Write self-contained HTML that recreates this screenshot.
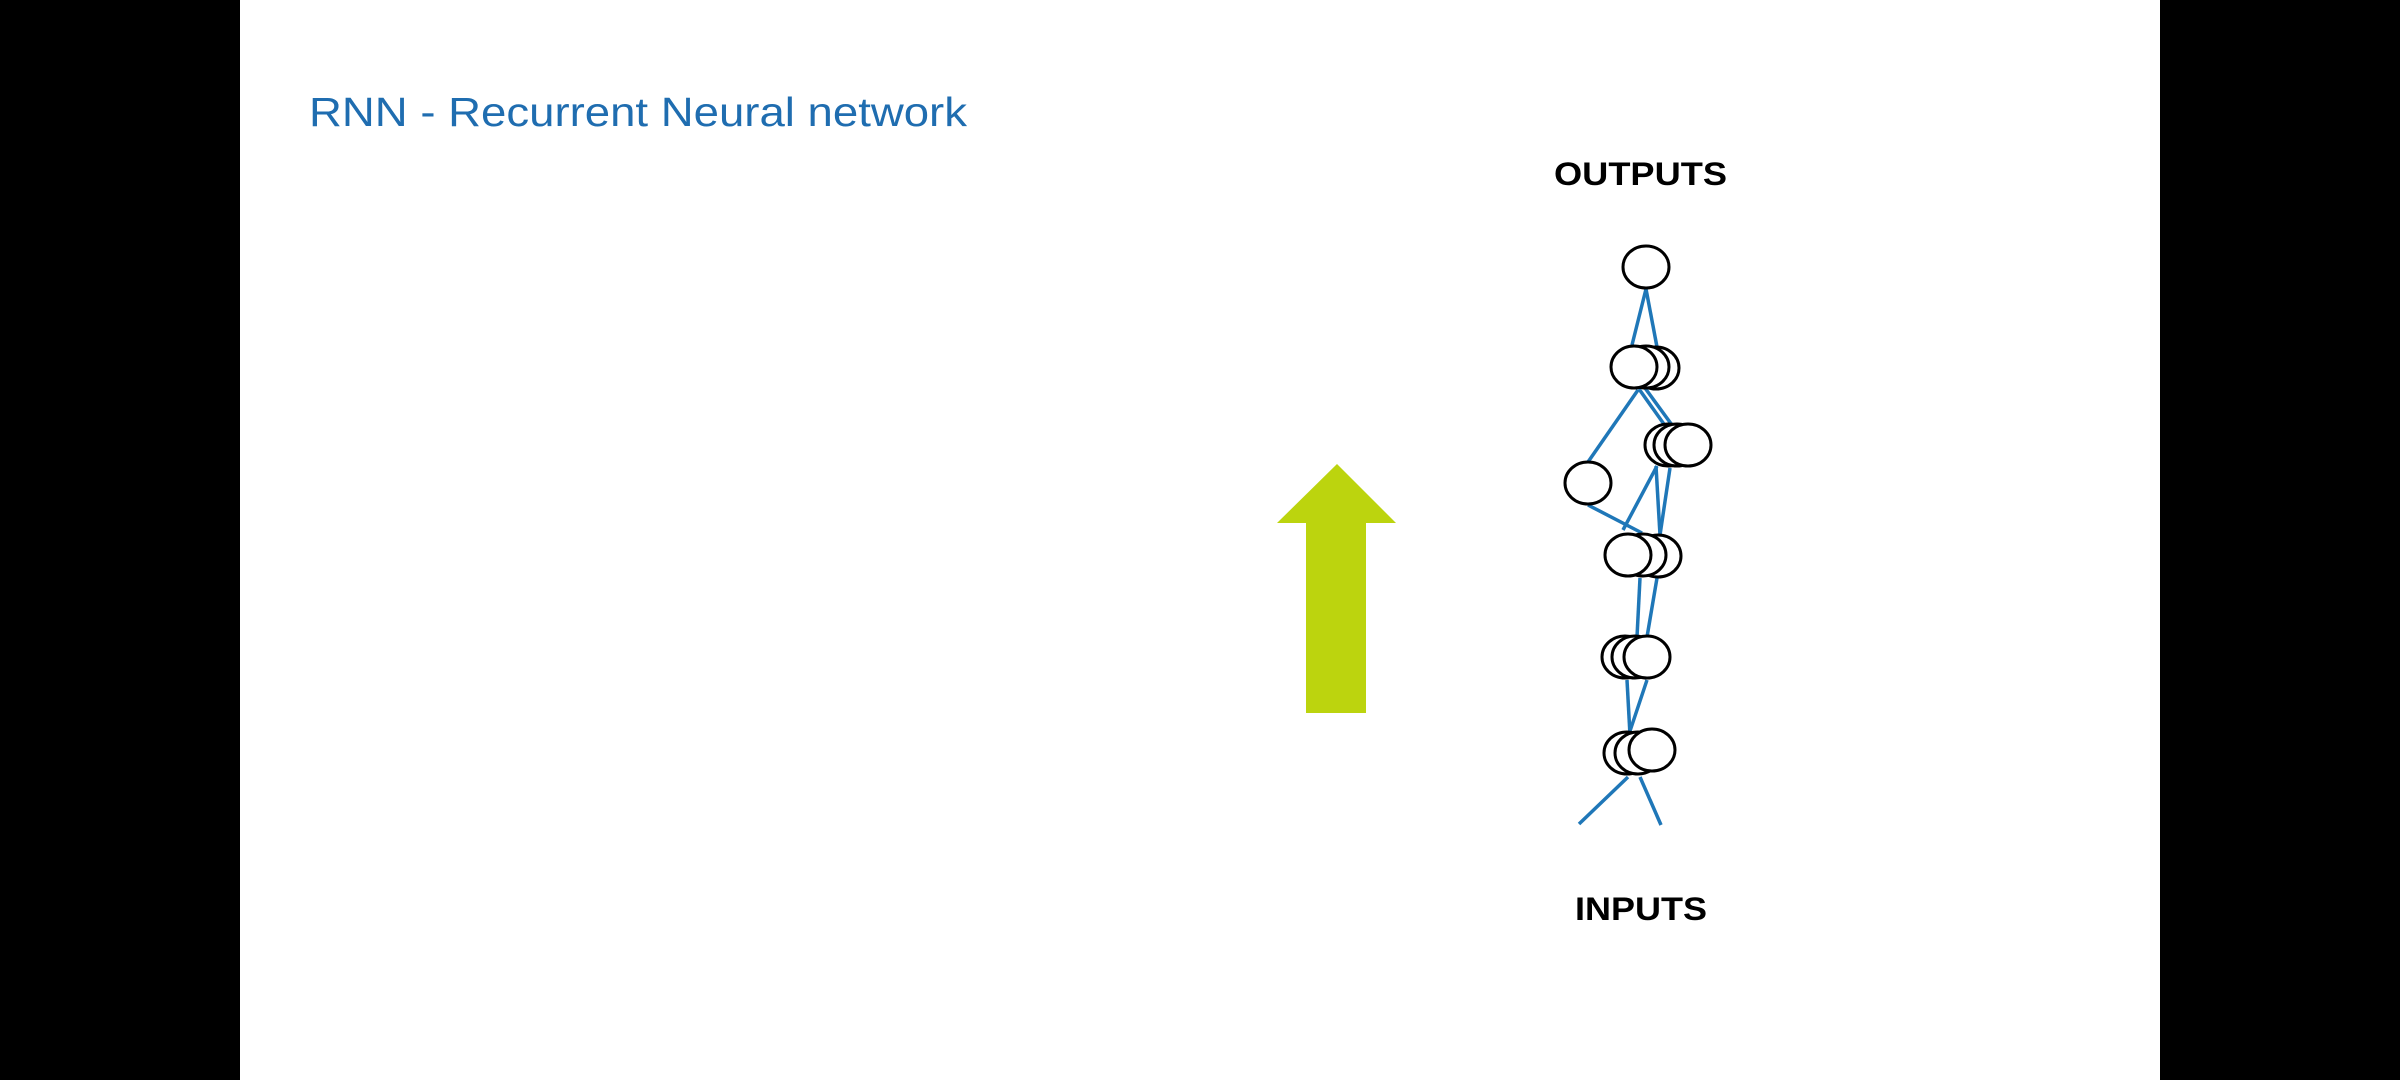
<!DOCTYPE html>
<html><head><meta charset="utf-8"><style>
html,body{margin:0;padding:0;background:#000;}
svg{display:block;}
</style></head><body>
<svg width="2400" height="1080" viewBox="0 0 2400 1080" xmlns="http://www.w3.org/2000/svg">
<rect x="0" y="0" width="2400" height="1080" fill="#000"/>
<rect x="240" y="0" width="1920" height="1080" fill="#fff"/>
<text x="309" y="126" font-family="Liberation Sans, sans-serif" font-size="41" fill="#1f6db0" textLength="658" lengthAdjust="spacingAndGlyphs">RNN - Recurrent Neural network</text>
<text x="1554" y="185" font-family="Liberation Sans, sans-serif" font-weight="bold" font-size="32" fill="#000" textLength="173" lengthAdjust="spacingAndGlyphs">OUTPUTS</text>
<text x="1575" y="920" font-family="Liberation Sans, sans-serif" font-weight="bold" font-size="32" fill="#000" textLength="132" lengthAdjust="spacingAndGlyphs">INPUTS</text>
<polygon points="1337,464 1396,523 1366,523 1366,713 1306,713 1306,523 1277,523" fill="#bcd40e"/>
<g stroke="#1f77b8" stroke-width="3.5" fill="none">
<line x1="1646" y1="289" x2="1632" y2="345"/>
<line x1="1646" y1="289" x2="1657" y2="347"/>
<line x1="1638" y1="390" x2="1588" y2="462"/>
<line x1="1639" y1="389" x2="1666" y2="427"/>
<line x1="1645" y1="388" x2="1672" y2="425"/>
<line x1="1588" y1="505" x2="1642" y2="533"/>
<line x1="1657" y1="466" x2="1623" y2="530"/>
<line x1="1656" y1="466" x2="1660" y2="535"/>
<line x1="1670" y1="468" x2="1660" y2="535"/>
<line x1="1640" y1="578" x2="1637" y2="637"/>
<line x1="1657" y1="578" x2="1647" y2="637"/>
<line x1="1627" y1="680" x2="1630" y2="735"/>
<line x1="1647" y1="680" x2="1628" y2="737"/>
<line x1="1628" y1="777" x2="1579" y2="824"/>
<line x1="1640" y1="777" x2="1661" y2="825"/>
</g>
<g stroke="#000" stroke-width="3" fill="#fff">
<ellipse cx="1646" cy="267" rx="23" ry="21"/>
<ellipse cx="1656" cy="368" rx="23" ry="21"/>
<ellipse cx="1646" cy="367" rx="23" ry="21"/>
<ellipse cx="1634" cy="367" rx="23" ry="21"/>
<ellipse cx="1668" cy="445" rx="23" ry="21"/>
<ellipse cx="1677" cy="445" rx="23" ry="21"/>
<ellipse cx="1688" cy="445" rx="23" ry="21"/>
<ellipse cx="1588" cy="483" rx="23" ry="21"/>
<ellipse cx="1658" cy="556" rx="23" ry="21"/>
<ellipse cx="1643" cy="555" rx="23" ry="21"/>
<ellipse cx="1628" cy="555" rx="23" ry="21"/>
<ellipse cx="1625" cy="657" rx="23" ry="21"/>
<ellipse cx="1635" cy="657" rx="23" ry="21"/>
<ellipse cx="1647" cy="657" rx="23" ry="21"/>
<ellipse cx="1627" cy="753" rx="23" ry="21"/>
<ellipse cx="1638" cy="753" rx="23" ry="21"/>
<ellipse cx="1652" cy="750" rx="23" ry="21"/>
</g>
</svg>
</body></html>
